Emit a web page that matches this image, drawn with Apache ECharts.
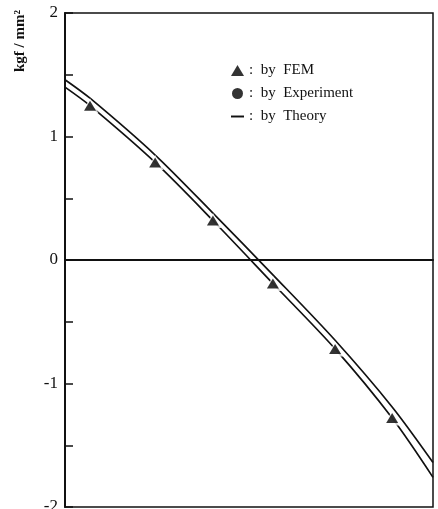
<!DOCTYPE html>
<html>
<head>
<meta charset="utf-8">
<script src="https://cdn.jsdelivr.net/npm/echarts@6/dist/echarts.min.js"></script>
<style>
  html, body { margin: 0; padding: 0; background: #fff; }
  #chart { width: 438px; height: 509px; }
</style>
</head>
<body>
<div id="chart"></div>
<script>
// Position along the member (arbitrary units, axis unlabeled)
const positions = [0, 0.68, 2.45, 4.02, 5.65, 7.34, 8.89, 10];
// Stress in kgf/mm^2
const theoryStress = [1.46, 1.31, 0.85, 0.38, -0.12, -0.65, -1.19, -1.64];
const femCurveStress = [1.40, 1.25, 0.79, 0.32, -0.19, -0.72, -1.28, -1.76];
// FEM sample points
const femPositions = [0.68, 2.45, 4.02, 5.65, 7.34, 8.89];
const femStress = [1.25, 0.79, 0.32, -0.19, -0.72, -1.28];
// Experimental points (none plotted in this figure)
const expPositions = [];
const expStress = [];
const yTicks = [-2, -1, 0, 1, 2];

const pair = (xs, ys) => xs.map((x, i) => [x, ys[i]]);
const serif = '"Liberation Serif", "DejaVu Serif", serif';

const chart = echarts.init(document.getElementById('chart'), null, { renderer: 'canvas' });
chart.setOption({
  animation: false,
  backgroundColor: '#fff',
  grid: {
    left: 65, right: 5, top: 13, bottom: 2,
    outerBoundsMode: 'none', containLabel: false,
    show: true, borderColor: '#111', borderWidth: 1.5, backgroundColor: 'transparent'
  },
  legend: {
    orient: 'vertical',
    left: 226, top: 58,
    itemGap: 8,
    itemWidth: 13, itemHeight: 11,
    textStyle: { fontFamily: serif, fontSize: 15, color: '#111' },
    formatter: name => ':  by  ' + name,
    data: [
      { name: 'FEM', icon: 'triangle' },
      { name: 'Experiment', icon: 'circle' },
      { name: 'Theory', icon: 'path://M0,4.5 L8,4.5 L8,5.7 L0,5.7 Z' }
    ]
  },
  xAxis: {
    type: 'value', min: 0, max: 10,
    axisLine: { onZero: true, lineStyle: { color: '#111', width: 2 } },
    axisTick: { show: false },
    axisLabel: { show: false },
    splitLine: { show: false }
  },
  yAxis: {
    type: 'value', min: yTicks[0], max: yTicks[yTicks.length - 1], interval: 1,
    axisLine: { show: true, onZero: false, lineStyle: { color: '#111', width: 2 } },
    axisTick: { show: true, inside: true, length: 8, lineStyle: { color: '#111', width: 1.5 } },
    minorTick: { show: true, splitNumber: 2, length: 8, lineStyle: { color: '#111', width: 1.5 } },
    axisLabel: {
      fontFamily: serif, fontSize: 17, color: '#111', margin: 7,
      formatter: v => yTicks.includes(v) ? String(v) : ''
    },
    splitLine: { show: false }
  },
  graphic: [{
    type: 'text',
    x: 20, y: 41,
    rotation: Math.PI / 2,
    style: {
      text: 'kgf / mm²',
      fontFamily: serif, fontSize: 15, fontWeight: 'bold',
      fill: '#111', textAlign: 'center', textVerticalAlign: 'middle'
    }
  }],
  series: [
    {
      name: 'Theory', type: 'line', smooth: 0.3, showSymbol: false,
      data: pair(positions, theoryStress),
      lineStyle: { color: '#111', width: 1.7 }, itemStyle: { color: '#111' }, z: 2
    },
    {
      name: 'FEM curve', type: 'line', smooth: 0.3, showSymbol: false,
      data: pair(positions, femCurveStress),
      lineStyle: { color: '#111', width: 1.7 }, z: 2
    },
    {
      // white halo that opens a gap in the curves around each FEM marker
      name: 'FEM halo', type: 'scatter', symbol: 'triangle', symbolSize: [17, 15],
      data: pair(femPositions, femStress),
      itemStyle: { color: '#fff' }, silent: true, z: 4
    },
    {
      name: 'FEM', type: 'scatter', symbol: 'triangle', symbolSize: [12, 10],
      data: pair(femPositions, femStress),
      itemStyle: { color: '#000' }, z: 5
    },
    {
      name: 'Experiment', type: 'scatter', symbol: 'circle', symbolSize: 9,
      data: pair(expPositions, expStress),
      itemStyle: { color: '#000' }, z: 5
    }
  ]
});
</script>
</body>
</html>
